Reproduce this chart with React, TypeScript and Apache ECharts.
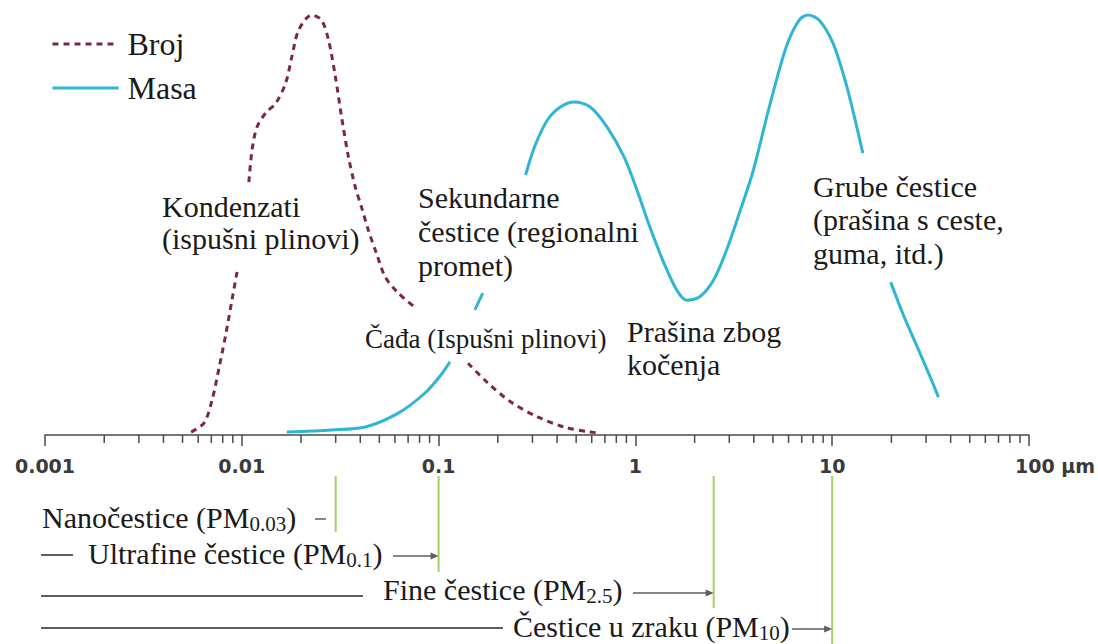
import React, { useEffect, useRef } from "react";
import * as echarts from "echarts";

// ---- axis ----
const sizeTicks = [0.001, 0.01, 0.1, 1, 10, 100];
const tickLabels = ["0.001", "0.01", "0.1", "1", "10", "100 µm"];
const minorMultipliers = [2, 3, 4, 5, 6, 7, 8, 9];

// ---- Broj (number distribution), "-" = break behind a label ----
const brojX = [
  0.00553, 0.00644, 0.00706, 0.00768, 0.00832, 0.00891, 0.00946, 0.0102,
  0.01086, 0.01128, 0.01194, 0.01324, 0.01489, 0.01671, 0.01795, 0.01945,
  0.02265, 0.02541, 0.0276, 0.02992, 0.03214, 0.03483, 0.03774, 0.04055,
  0.04394, 0.0483, 0.05358, 0.06237, 0.07691, 0.1, 0.1411, 0.1778, 0.2323,
  0.3184, 0.4356, 0.5888, 0.6622,
];
const brojY: (number | string)[] = [
  0.7, 2.9, 8.3, 16.2, 24.3, 32.1, 38.8, "-",
  60.2, 67.9, 73.3, 76.7, 79.0, 83.8, 90.0, 96.4,
  100, 98.8, 94.0, 85.2, 75.7, 66.2, 59.0, 54.3,
  48.8, 43.3, 37.6, 33.8, 30.2, "-", 17.1, 12.4, 7.9,
  4.3, 1.9, 0.7, 0.5,
];

// ---- Masa (mass distribution) ----
const masaX = [
  0.01693, 0.02858, 0.04246, 0.06234, 0.08534, 0.1028, 0.1142, 0.135,
  0.1528, 0.1677, 0.22, 0.2767, 0.3072, 0.3574, 0.4158, 0.4894, 0.5895,
  0.7185, 0.8758, 1.019, 1.185, 1.395, 1.623, 1.823, 2.122, 2.497, 2.905,
  3.38, 3.978, 4.792, 5.84, 6.796, 7.546, 8.577, 10.09, 11.74, 13.19, 14.31,
  17, 19.83, 22.81, 26.53, 30.85, 34.7,
];
const masaY: (number | string)[] = [
  0.7, 1.2, 1.9, 5.2, 10.0, 14.3, 17.4, "-",
  29.8, 33.8, "-", 61.9, 68.6, 75.0, 78.1, 79.3, 78.1,
  73.3, 66.2, 58.3, 49.5, 41.0, 34.5, 32.1, 32.9, 36.9, 44.0,
  52.9, 63.1, 78.1, 92.4, 98.8, 100, 98.8, 93.3, 83.8, 74.3, 67.1,
  "-", 36.4, 29.0, 21.9, 14.8, 9.0,
];

// ---- size-class cut-offs (µm) ----
const cutNames = ["Nanočestice", "Ultrafine čestice", "Fine čestice", "Čestice u zraku"];
const cutSubs = ["0.03", "0.1", "2.5", "10"];
const cutValues = [0.03, 0.1, 2.5, 10];

const SERIF = "Liberation Serif";
const SANS = "DejaVu Sans";
const RED = "#7a2a3c";
const CYAN = "#2fb6d3";
const GREEN = "#a3d06a";
const GRAY = "#5e5e5e";
const INK = "#1a1a1a";

export default function App() {
  const ref = useRef<HTMLDivElement>(null);

  useEffect(() => {
    document.body.style.margin = "0";
    if (!ref.current) return;
    const chart = echarts.init(ref.current, undefined, { renderer: "svg" });

    const minorTicks: number[][] = [];
    sizeTicks.slice(0, -1).forEach((d) =>
      minorMultipliers.forEach((m) => minorTicks.push([m * d, 0]))
    );

    const labelFor = (v: number) => {
      const i = sizeTicks.findIndex((t) => Math.abs(Math.log10(t) - Math.log10(v)) < 0.01);
      return i >= 0 ? tickLabels[i] : "";
    };

    chart.setOption({
      animation: false,
      backgroundColor: "#ffffff",
      grid: { left: 45, right: 68, top: 15, bottom: 209 },
      legend: {
        data: ["Broj", "Masa"],
        orient: "vertical",
        left: 46,
        top: 20,
        itemWidth: 66,
        itemHeight: 20,
        itemGap: 6,
        itemStyle: { opacity: 0 },
        lineStyle: { width: 3 },
        textStyle: {
          fontFamily: SERIF,
          fontSize: 32,
          color: INK,
          lineHeight: 38,
          padding: [0, 0, 0, 4],
        },
      },
      xAxis: {
        type: "log",
        logBase: 10,
        min: 0.001,
        max: 100,
        axisLine: { show: true, lineStyle: { color: "#4a4a4a", width: 1.5 } },
        axisTick: { show: true, inside: false, length: 11, lineStyle: { color: "#4a4a4a", width: 1.5 } },
        minorTick: { show: false },
        splitLine: { show: false },
        axisLabel: {
          margin: 21,
          formatter: (v: number) => {
            const s = labelFor(v);
            return s.indexOf("µm") >= 0 ? "{pad|}{t|" + s + "}" : "{t|" + s + "}";
          },
          rich: {
            t: { fontFamily: SANS, fontWeight: "bold", fontSize: 19, color: "#3a3a3a" },
            pad: { width: 52 },
          },
        },
      },
      yAxis: { type: "value", min: 0, max: 100, show: false },
      series: [
        {
          name: "Broj",
          type: "line",
          smooth: 0.3,
          symbol: "none",
          connectNulls: false,
          lineStyle: { color: RED, width: 3, type: [6, 5] },
          itemStyle: { color: RED },
          data: brojX.map((x, i) => [x, brojY[i]]),
          z: 3,
        },
        {
          name: "Masa",
          type: "line",
          smooth: 0.3,
          symbol: "none",
          connectNulls: false,
          lineStyle: { color: CYAN, width: 3 },
          itemStyle: { color: CYAN },
          data: masaX.map((x, i) => [x, masaY[i]]),
          z: 3,
        },
        {
          type: "custom",
          silent: true,
          clip: false,
          data: minorTicks,
          renderItem: (_p: any, api: any) => {
            const c = api.coord([api.value(0), 0]);
            return {
              type: "line",
              shape: { x1: c[0], y1: c[1], x2: c[0], y2: c[1] + 8 },
              style: { stroke: "#4a4a4a", lineWidth: 1.5 },
            };
          },
        },
      ],
    });

    const px = (v: number) => chart.convertToPixel({ xAxisIndex: 0 }, v) as number;

    const txt = (text: string, x: number, y: number, size = 30) => ({
      type: "text",
      silent: true,
      style: {
        text: "{n|" + text + "}",
        x,
        y,
        verticalAlign: "middle",
        align: "left",
        rich: { n: { fontFamily: SERIF, fontSize: size, lineHeight: size + 4, fill: INK } },
      },
    });

    const subText = (name: string, sub: string, x: number, y: number) => ({
      type: "text",
      silent: true,
      style: {
        text: "{n|" + name + " (PM}{s|" + sub + "}{n|)}",
        x,
        y,
        verticalAlign: "middle",
        align: "left",
        rich: {
          n: { fontFamily: SERIF, fontSize: 30, lineHeight: 30, fill: INK },
          s: { fontFamily: SERIF, fontSize: 21, lineHeight: 18, padding: [14, 0, 0, 0], fill: INK },
        },
      },
    });

    const hline = (x1: number, x2: number, y: number, w = 2) => ({
      type: "line",
      silent: true,
      shape: { x1, y1: y, x2, y2: y },
      style: { stroke: GRAY, lineWidth: w },
    });

    const arrow = (x1: number, x2: number, y: number) => [
      hline(x1, x2 - 6, y, 1.5),
      {
        type: "polygon",
        silent: true,
        shape: { points: [[x2 - 8, y - 3.5], [x2, y], [x2 - 8, y + 3.5]] },
        style: { fill: GRAY },
      },
    ];

    const vline = (v: number, y2: number) => ({
      type: "line",
      silent: true,
      shape: { x1: px(v), y1: 476, x2: px(v), y2 },
      style: { stroke: GREEN, lineWidth: 2 },
    });

    const graphics: any[] = [
      // annotations
      txt("Kondenzati", 162, 206),
      txt("(ispušni plinovi)", 162, 238),
      txt("Sekundarne", 418, 197),
      txt("čestice (regionalni", 418, 231),
      txt("promet)", 418, 265),
      txt("Čađa (Ispušni plinovi)", 365, 339, 27),
      txt("Prašina zbog", 627, 331),
      txt("kočenja", 627, 364),
      txt("Grube čestice", 813, 186),
      txt("(prašina s ceste,", 813, 219),
      txt("guma, itd.)", 813, 253),
      // green cut-off lines
      vline(cutValues[0], 532),
      vline(cutValues[1], 572),
      vline(cutValues[2], 608),
      vline(cutValues[3], 644),
      // row 1
      subText(cutNames[0], cutSubs[0], 42, 517),
      hline(315, 326, 519, 1.5),
      // row 2
      hline(41, 73, 555),
      subText(cutNames[1], cutSubs[1], 88, 553),
      ...arrow(393, px(cutValues[1]), 556),
      // row 3
      hline(41, 363, 596),
      subText(cutNames[2], cutSubs[2], 383, 589),
      ...arrow(633, px(cutValues[2]), 593),
      // row 4
      hline(41, 503, 628),
      subText(cutNames[3], cutSubs[3], 513, 626),
      ...arrow(792, px(cutValues[3]), 629),
    ];

    chart.setOption({ graphic: graphics });

    return () => chart.dispose();
  }, []);

  return <div ref={ref} style={{ width: 1098, height: 644 }} />;
}
